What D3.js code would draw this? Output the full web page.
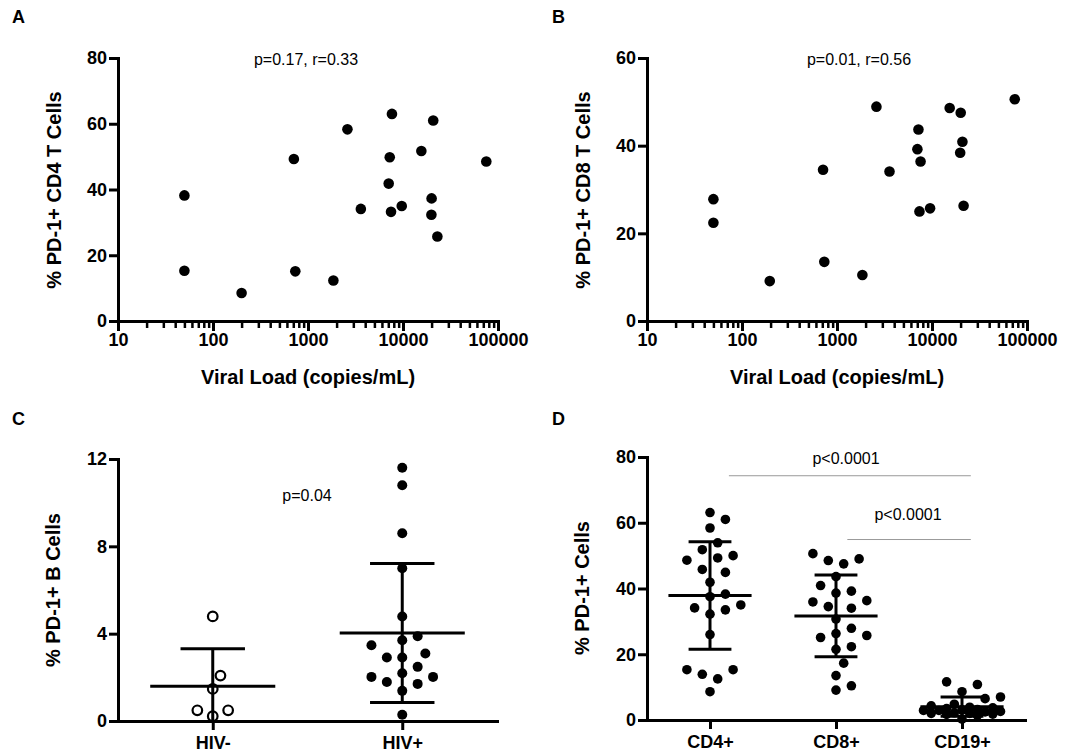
<!DOCTYPE html>
<html>
<head>
<meta charset="utf-8">
<script src="https://cdn.jsdelivr.net/npm/d3@7"></script>
<style>
  body { margin: 0; background: #fff; }
  svg text { font-family: "Liberation Sans", Arial, Helvetica, sans-serif; fill: #000; }
</style>
</head>
<body>
<svg id="chart" width="1081" height="754"></svg>
<script>
// ---- data ----
const viralLoadA = [50, 50, 200, 710, 735, 1850, 2600, 3600, 7650, 7250, 7070, 7480, 9700, 15600, 20800, 20000, 19900, 23000, 75300];
const pd1Cd4A    = [38.2, 15.3, 8.5, 49.3, 15.1, 12.3, 58.3, 34.1, 63.0, 49.8, 41.8, 33.2, 35.0, 51.7, 61.0, 37.3, 32.3, 25.7, 48.5];

const viralLoadB = [50, 50, 196, 713, 735, 1850, 2600, 3570, 7200, 7020, 7580, 7380, 9550, 15350, 20050, 20900, 19800, 21500, 74300];
const pd1Cd8B    = [27.8, 22.4, 9.1, 34.5, 13.5, 10.5, 48.9, 34.1, 43.7, 39.2, 36.4, 25.0, 25.7, 48.6, 47.5, 40.9, 38.4, 26.3, 50.6];

const groupsC = ["HIV-", "HIV+"];
const bCellsHivNeg = [4.79, 2.08, 1.47, 0.49, 0.49, 0.22];
const bCellsHivPos = [11.6, 10.8, 8.6, 7.0, 4.79, 3.88, 3.47, 3.7, 3.09, 2.91, 2.91, 2.48, 2.19, 2.02, 2.02, 1.7, 1.79, 1.38, 0.29];

const groupsD = ["CD4+", "CD8+", "CD19+"];
const pd1Cd4 = [63.1, 61.0, 58.4, 53.9, 50.0, 51.8, 49.3, 48.6, 45.8, 44.9, 41.9, 37.5, 38.3, 35.0, 33.5, 34.1, 32.2, 26.0, 15.3, 13.9, 15.3, 12.5, 8.6];
const pd1Cd8 = [49.0, 47.5, 48.5, 50.6, 43.6, 40.9, 39.2, 38.6, 35.9, 36.3, 34.0, 34.5, 30.7, 27.9, 26.3, 25.7, 25.1, 22.3, 21.5, 17.3, 13.5, 10.4, 9.1];
const pd1Cd19 = [11.6, 10.8, 8.6, 7.0, 6.5, 4.79, 4.3, 3.88, 3.47, 3.7, 3.2, 3.09, 2.91, 2.91, 2.6, 2.48, 2.19, 2.02, 2.02, 1.7, 1.79, 1.38, 0.29];

const logLabels = [10, 100, 1000, 10000, 100000];
const ticksA = [0, 20, 40, 60, 80];
const ticksB = [0, 20, 40, 60];
const ticksC = [0, 4, 8, 12];
const ticksD = [0, 20, 40, 60, 80];

const svg = d3.select("#chart");

// ---- helpers ----
function styleAxis(g) {
  g.select(".domain").attr("stroke", "#000").attr("stroke-width", 3).attr("stroke-linecap", "square");
  g.selectAll(".tick line").attr("stroke", "#000").attr("stroke-width", 3);
  g.selectAll(".tick text").attr("font-size", 18).attr("font-weight", "bold").attr("fill", "#000");
}

function yAxis(y, x0, ticks) {
  const g = svg.append("g")
    .attr("transform", `translate(${x0},0)`)
    .call(d3.axisLeft(y).tickValues(ticks).tickSize(9).tickPadding(2).tickSizeOuter(0));
  styleAxis(g);
  return g;
}

function logXAxis(x, y0) {
  const g = svg.append("g")
    .attr("transform", `translate(0,${y0})`)
    .call(d3.axisBottom(x).tickValues(x.ticks())
      .tickFormat(d => logLabels.includes(d) ? d : "")
      .tickSize(10).tickPadding(2).tickSizeOuter(0));
  styleAxis(g);
  g.selectAll(".tick").filter(d => !logLabels.includes(d))
    .select("line").attr("y2", 7).attr("stroke-width", 2.5);
  return g;
}

function catXAxis(x, y0) {
  const g = svg.append("g")
    .attr("transform", `translate(0,${y0})`)
    .call(d3.axisBottom(x).tickSize(9).tickPadding(6).tickSizeOuter(0));
  styleAxis(g);
  return g;
}

function axisTitleY(text, x, yc) {
  svg.append("text")
    .attr("transform", `translate(${x},${yc}) rotate(-90)`)
    .attr("text-anchor", "middle")
    .attr("font-size", 20).attr("font-weight", "bold")
    .text(text);
}

function panelLetter(text, x, y) {
  svg.append("text").attr("x", x).attr("y", y)
    .attr("font-size", 18).attr("font-weight", "bold").text(text);
}

function note(text, x, y) {
  svg.append("text").attr("x", x).attr("y", y)
    .attr("text-anchor", "middle").attr("font-size", 16).text(text);
}

// simple column swarm, Prism-like: fixed column step, overlap when crowded
function swarm(values, y, r, maxCols) {
  const step = 7.7;
  const gap = 2 * r * 1.5;
  const placed = [];
  const offsets = new Array(values.length);
  d3.range(values.length).sort((a, b) => values[a] - values[b]).forEach(i => {
    const py = y(values[i]);
    let best = 0, bestD = -1;
    for (let k = 0; k <= maxCols * 2; k++) {
      const off = (k % 2 ? 1 : -1) * Math.ceil(k / 2) * step;
      const minD = placed.length ? d3.min(placed, p => Math.hypot(p[0] - off, p[1] - py)) : Infinity;
      if (minD >= gap) { best = off; break; }
      if (minD > bestD) { bestD = minD; best = off; }
    }
    offsets[i] = best;
    placed.push([best, py]);
  });
  return offsets;
}

function errorBars(cx, y, values, step) {
  const m = d3.mean(values), sd = d3.deviation(values);
  const lo = m - sd, hi = m + sd;
  const g = svg.append("g").attr("stroke", "#000").attr("stroke-width", 3);
  g.append("line").attr("x1", cx).attr("x2", cx).attr("y1", y(hi)).attr("y2", y(Math.max(0, lo)));
  g.append("line").attr("x1", cx - 0.33 * step).attr("x2", cx + 0.33 * step).attr("y1", y(m)).attr("y2", y(m));
  g.append("line").attr("x1", cx - 0.17 * step).attr("x2", cx + 0.17 * step).attr("y1", y(hi)).attr("y2", y(hi));
  if (lo > 0) g.append("line").attr("x1", cx - 0.17 * step).attr("x2", cx + 0.17 * step).attr("y1", y(lo)).attr("y2", y(lo));
}

// ---- Panel A ----
const xA = d3.scaleLog().domain([10, 100000]).range([118, 498]);
const yA = d3.scaleLinear().domain([0, 80]).range([321, 58]);
svg.append("g").selectAll("circle").data(viralLoadA).join("circle")
  .attr("cx", d => xA(d)).attr("cy", (d, i) => yA(pd1Cd4A[i])).attr("r", 5.3).attr("fill", "#000");
logXAxis(xA, 321);
yAxis(yA, 118, ticksA);
axisTitleY("% PD-1+ CD4 T Cells", 61, 190);
svg.append("text").attr("x", 308).attr("y", 384).attr("text-anchor", "middle")
  .attr("font-size", 20).attr("font-weight", "bold").text("Viral Load (copies/mL)");
note("p=0.17, r=0.33", 306, 65);
panelLetter("A", 12, 23);

// ---- Panel B ----
const xB = d3.scaleLog().domain([10, 100000]).range([647, 1027]);
const yB = d3.scaleLinear().domain([0, 60]).range([321, 58]);
svg.append("g").selectAll("circle").data(viralLoadB).join("circle")
  .attr("cx", d => xB(d)).attr("cy", (d, i) => yB(pd1Cd8B[i])).attr("r", 5.3).attr("fill", "#000");
logXAxis(xB, 321);
yAxis(yB, 647, ticksB);
axisTitleY("% PD-1+ CD8 T Cells", 590, 190);
svg.append("text").attr("x", 837).attr("y", 384).attr("text-anchor", "middle")
  .attr("font-size", 20).attr("font-weight", "bold").text("Viral Load (copies/mL)");
note("p=0.01, r=0.56", 859, 65);
panelLetter("B", 552, 23);

// ---- Panel C ----
const xC = d3.scalePoint().domain(groupsC).range([118, 497]).padding(0.5);
const yC = d3.scaleLinear().domain([0, 12]).range([721, 459]);
const stepC = xC.step();
const offNeg = swarm(bCellsHivNeg, yC, 5, 5);
const offPos = swarm(bCellsHivPos, yC, 5, 5);
svg.append("g").selectAll("circle").data(bCellsHivNeg).join("circle")
  .attr("cx", (d, i) => xC("HIV-") + offNeg[i]).attr("cy", d => yC(d))
  .attr("r", 4.8).attr("fill", "#fff").attr("stroke", "#000").attr("stroke-width", 2.2);
svg.append("g").selectAll("circle").data(bCellsHivPos).join("circle")
  .attr("cx", (d, i) => xC("HIV+") + offPos[i]).attr("cy", d => yC(d))
  .attr("r", 5).attr("fill", "#000");
errorBars(xC("HIV-"), yC, bCellsHivNeg, stepC);
errorBars(xC("HIV+"), yC, bCellsHivPos, stepC);
catXAxis(xC, 721);
yAxis(yC, 118, ticksC);
axisTitleY("% PD-1+ B Cells", 60, 590);
note("p=0.04", 307, 501);
panelLetter("C", 12, 425);

// ---- Panel D ----
const xD = d3.scalePoint().domain(groupsD).range([647, 1025]).padding(0.5);
const yD = d3.scaleLinear().domain([0, 80]).range([720, 457]);
const stepD = xD.step();
[pd1Cd4, pd1Cd8, pd1Cd19].forEach((vals, gi) => {
  const offs = swarm(vals, yD, 4.8, 5);
  const cx = xD(groupsD[gi]);
  svg.append("g").selectAll("circle").data(vals).join("circle")
    .attr("cx", (d, i) => cx + offs[i]).attr("cy", d => yD(d))
    .attr("r", 4.8).attr("fill", "#000");
  errorBars(cx, yD, vals, stepD);
});
catXAxis(xD, 720);
yAxis(yD, 647, ticksD);
axisTitleY("% PD-1+ Cells", 589, 588);

const sig = svg.append("g").attr("stroke", "#9a9a9a").attr("stroke-width", 1);
sig.append("line").attr("x1", xD("CD4+") + 0.15 * stepD).attr("x2", xD("CD19+") + 0.07 * stepD)
  .attr("y1", yD(74.3)).attr("y2", yD(74.3));
sig.append("line").attr("x1", xD("CD8+") + 0.09 * stepD).attr("x2", xD("CD19+") + 0.07 * stepD)
  .attr("y1", yD(54.9)).attr("y2", yD(54.9));
note("p<0.0001", 846, 464);
note("p<0.0001", 908, 520);
panelLetter("D", 552, 425);
</script>
</body>
</html>
